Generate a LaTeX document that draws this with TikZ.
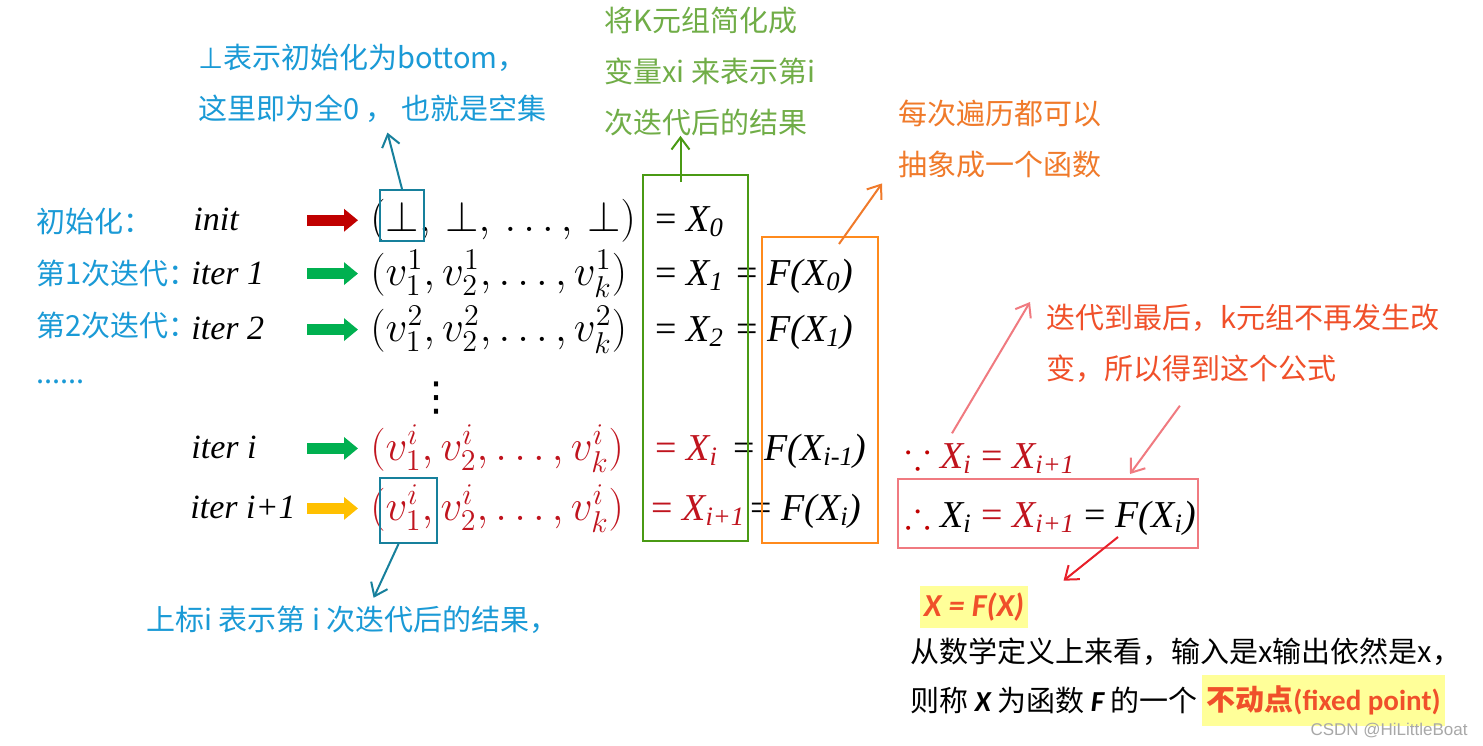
\RequirePackage{fix-cm}
\documentclass[tikz,border=0pt]{standalone}
\usepackage{fontspec}
\usepackage{amsmath}
\usepackage{amssymb}
\usetikzlibrary{arrows.meta, positioning, fit, calc}
\newfontfamily\cjk{Noto Sans CJK SC}
\newfontfamily\tms{Liberation Serif}
\newfontfamily\carl{Carlito}
\newfontfamily\djv{DejaVu Sans}
\newfontfamily\lib{Liberation Sans}
\newcommand{\eqsign}{{\upshape =}}
\definecolor{lblblue}{HTML}{1A9AD6}
\definecolor{boxteal}{HTML}{17809C}
\definecolor{arrred}{HTML}{C00000}
\definecolor{arrgreen}{HTML}{00B050}
\definecolor{arryellow}{HTML}{FFC000}
\definecolor{boxgreen}{HTML}{4A9A14}
\definecolor{txtgreen}{HTML}{70AD47}
\definecolor{boxorange}{HTML}{FF8A1C}
\definecolor{txtorange}{HTML}{F07A2A}
\definecolor{tupred}{HTML}{C0141E}
\definecolor{txtred}{HTML}{F0502A}
\definecolor{pinkline}{HTML}{F07A80}
\definecolor{arrowred}{HTML}{E8202A}
\definecolor{hlyellow}{HTML}{FFFF99}
\definecolor{wmgray}{HTML}{A8A8A8}

\begin{document}
\begin{tikzpicture}[x=0.5pt, y=-0.5pt,
    cn/.style={font=\cjk\fontsize{14.5}{25.5}\selectfont, inner sep=0pt, align=left},
    itr/.style={font=\tms\itshape\fontsize{17}{20}\selectfont, anchor=base west, inner sep=0pt},
    mth/.style={font=\fontsize{21.5}{26}\selectfont, anchor=base west, inner sep=0pt},
    tx/.style={font=\tms\itshape\fontsize{19}{23}\selectfont, anchor=base west, inner sep=0pt},
    fat/.style={line width=5.5pt, -{Triangle[length=7pt, width=11pt]}},
    note/.style={line width=1pt, -{Straight Barb[length=6pt, width=9pt]}},
    frame/.style={draw, line width=1pt, inner sep=0pt}]
    \useasboundingbox[fill=white] (0,0) rectangle (1483,745);

    % row labels
    \node[cn, text=lblblue, anchor=base west] (l0) at (36,232) {初始化：};
    \node[cn, text=lblblue, anchor=base west] (l1) at (36,284) {第1次迭代：};
    \node[cn, text=lblblue, anchor=base west] (l2) at (36,336) {第2次迭代：};
    \node[cn, text=lblblue, anchor=base west] (l3) at (36,383) {......};

    \node[itr] (i0) at (193,230) {init};
    \node[itr] (i1) at (191,284) {iter 1};
    \node[itr] (i2) at (191,339) {iter 2};
    \node[itr] (ii) at (191,458) {iter i};
    \node[itr] (ij) at (190,518) {iter i+1};

    % tuples
    \node[mth] (t0) at (370,231) {$(\bot,\, \bot,\, \ldots,\, \bot)$};
    \node[mth] (t1) at (370,285) {$(v_1^1, v_2^1, \ldots, v_k^1)$};
    \node[mth] (t2) at (370,341) {$(v_1^2, v_2^2, \ldots, v_k^2)$};
    \node[font=\djv\fontsize{20}{24}\selectfont, inner sep=0pt] (vd) at (436,398) {⋮};
    \node[mth, text=tupred] (ti) at (370,460) {$(v_1^i, v_2^i, \ldots, v_k^i)$};
    \node[mth, text=tupred] (tj) at (370,520) {$(v_1^i, v_2^i, \ldots, v_k^i)$};

    \foreach \r/\c in {t0/arrred, t1/arrgreen, t2/arrgreen, ti/arrgreen, tj/arryellow}
        \draw[fat, color=\c] ($(\r.west)+(-63,0)$) -- ($(\r.west)+(-12,0)$);

    % X column and F column
    \node[tx] (e0) at (655,231) {\eqsign{} X\textsubscript{0}};
    \node[tx] (e1) at (655,285) {\eqsign{} X\textsubscript{1}};
    \node[tx] (f1) at (736,285) {\eqsign{} F(X\textsubscript{0})};
    \node[tx] (e2) at (655,341) {\eqsign{} X\textsubscript{2}};
    \node[tx] (f2) at (736,341) {\eqsign{} F(X\textsubscript{1})};
    \node[tx, text=tupred] (ei) at (655,460) {\eqsign{} X\textsubscript{i}};
    \node[tx] (fi) at (733,460) {\eqsign{} F(X\textsubscript{i-1})};
    \node[tx, text=tupred] (ej) at (651,520) {\eqsign{} X\textsubscript{i+1}};
    \node[tx] (fj) at (750,520) {\eqsign{} F(X\textsubscript{i})};

    % frames
    \node[frame, draw=boxteal, fit={(380,190) (424,241)}] (b0) {};
    \node[frame, draw=boxteal, fit={(380,478) (437,543)}] (b1) {};
    \node[frame, draw=boxgreen, fit={(643,175) (748,541)}] (gbox) {};
    \node[frame, draw=boxorange, fit={(762,237) (878,543)}] (obox) {};

    % notes
    \node[cn, text=lblblue, anchor=west] (bt) at (198,83) {{\djv ⊥}表示初始化为bottom，\\这里即为全0 ， 也就是空集};
    \node[cn, text=txtgreen, anchor=west] (gt) at (604,71) {将K元组简化成\\变量xi 来表示第i\\次迭代后的结果};
    \node[cn, text=txtorange, anchor=west] (ot) at (898,139) {每次遍历都可以\\抽象成一个函数};
    \node[cn, text=txtred, anchor=west] (rt) at (1046,343) {迭代到最后，k元组不再发生改\\变，所以得到这个公式};
    \node[cn, text=lblblue, anchor=west] (bs) at (146,620) {上标i 表示第 i 次迭代后的结果，};

    \draw[note, boxteal] (b0.north) -- ($(bt.south)+(15,10)$);
    \draw[note, boxteal] ($(b1.south)+(-10,0)$) -- ($(bs.north)+(21,-8)$);
    \path ($(gbox.north)+(-15,8)$) coordinate (ga);
    \draw[note, boxgreen] (ga) -- (ga |- gt.south);
    \draw[note, txtorange] ($(obox.north east)+(-40,8)$) -- ($(ot.south west)+(-16,5)$);

    % fixed point
    \node[tx] (bec) at (905,468) {\textcolor{arrred}{$\because$}\ \textcolor{tupred}{X\textsubscript{i} \eqsign{} X\textsubscript{i+1}}};
    \node[tx] (thr) at (905,527) {\textcolor{arrred}{$\therefore$}\ X\textsubscript{i} \textcolor{tupred}{\eqsign{} X\textsubscript{i+1}} \eqsign{} F(X\textsubscript{i})};
    \node[frame, draw=pinkline, fit={(898,479) (1198,548)}] (pbox) {};

    \draw[note, pinkline] ($(bec.north west)+(47,-8)$) -- ($(rt.west)+(-16,-41)$);
    \draw[note, pinkline] ($(rt.south)+(-63,23)$) -- ($(pbox.north)+(82,-4)$);

    \node[fill=hlyellow, text=txtred, font=\carl\bfseries\itshape\fontsize{16}{19}\selectfont,
          minimum height=20.5pt, inner xsep=2pt] (xf) at (974,607) {X = F(X)};
    \draw[note, arrowred] ($(pbox.south)+(70,-12)$) -- ($(xf.north east)+(35,-5)$);

    \node[cn, anchor=west] (d1) at (910,652) {从数学定义上来看，输入是x输出依然是x，};
    \node[cn, anchor=west] (d2) at (910,700) {则称 {\carl\bfseries\itshape X} 为函数 {\carl\bfseries\itshape F} 的一个};
    \node[cn, right=2pt of d2, fill=hlyellow, text=txtred, font=\cjk\bfseries\fontsize{14.5}{16}\selectfont,
          minimum height=25.5pt, inner xsep=2pt] (fp) {不动点{\carl\bfseries(fixed point)}};

    \node[font=\lib\fontsize{8.5}{10}\selectfont, text=wmgray, anchor=base east, inner sep=0pt] (wm) at (1468,735) {CSDN @HiLittleBoat};
\end{tikzpicture}
\end{document}
